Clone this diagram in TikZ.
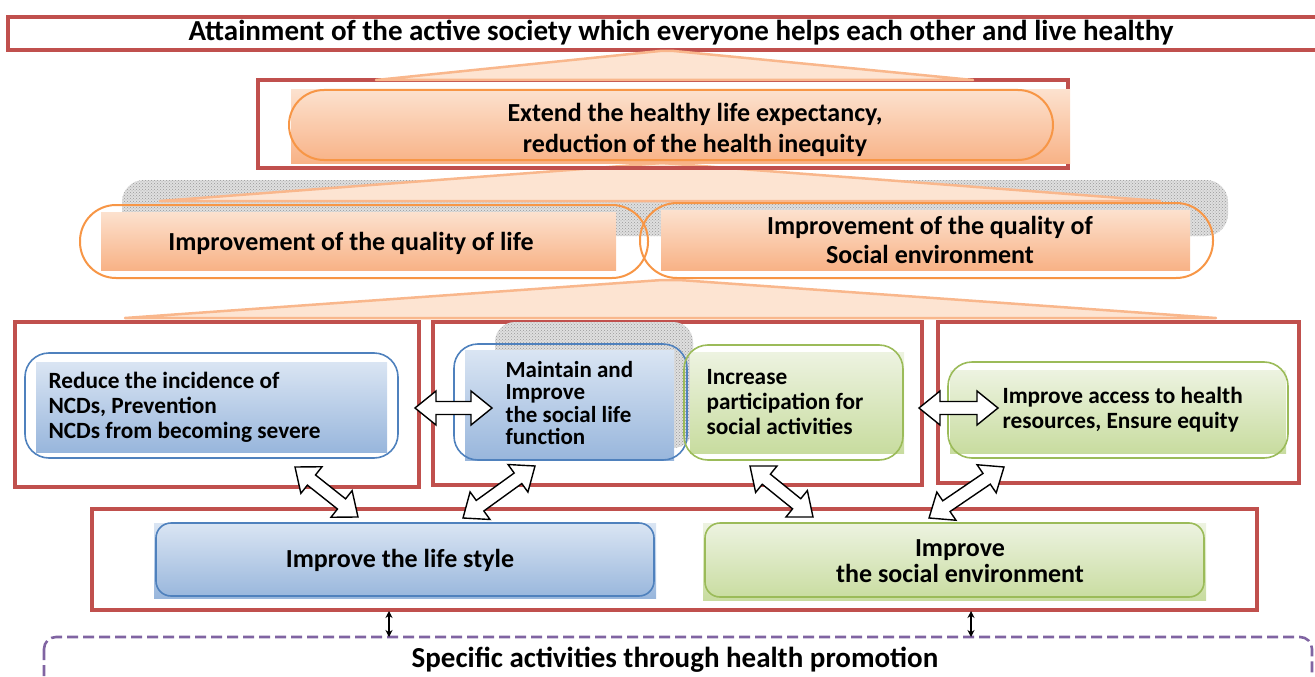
\documentclass[tikz,border=0pt]{standalone}
\usepackage{fontspec}
\setmainfont{Carlito}
\usetikzlibrary{calc,patterns,arrows.meta}

\definecolor{framered}{HTML}{C0504D}
\definecolor{orline}{HTML}{F79646}
\definecolor{ortop}{HTML}{FCE1CE}
\definecolor{orbot}{HTML}{F8B286}
\definecolor{fanfill}{HTML}{FDE4D2}
\definecolor{fanline}{HTML}{F9B78C}
\definecolor{blline}{HTML}{4F81BD}
\definecolor{bltop}{HTML}{DAE5F3}
\definecolor{blbot}{HTML}{98B6DC}
\definecolor{grline}{HTML}{9BBB59}
\definecolor{grtop}{HTML}{EDF3E1}
\definecolor{grbot}{HTML}{C8DC9F}
\definecolor{purp}{HTML}{8064A2}

\tikzset{
  frm/.style={draw=framered, line width=3.2pt},
  fan/.style={fill=fanfill, draw=fanline, line width=2.5pt, line join=round},
  haze/.style={fill=gray!25, postaction={pattern=crosshatch dots, pattern color=gray!80}},
  orfill/.style={shade, top color=ortop, bottom color=orbot},
  orring/.style={draw=orline, line width=2pt},
  blfill/.style={shade, top color=bltop, bottom color=blbot},
  blring/.style={draw=blline, line width=1.6pt},
  grfill/.style={shade, top color=grtop, bottom color=grbot},
  grring/.style={draw=grline, line width=1.6pt},
  fatarrow/.style={draw=black, fill=white, line width=1.4pt, line join=miter},
  thinarrow/.style={{Stealth[length=7pt,width=7pt]}-{Stealth[length=7pt,width=7pt]}, line width=1.1pt},
  big/.style={font=\bfseries\fontsize{29}{34}\selectfont},
  mid/.style={font=\bfseries\fontsize{26}{31}\selectfont, align=center},
  small/.style={font=\bfseries\fontsize{23.3}{25}\selectfont, align=left},
}

% fat double-headed arrow between two named points
\newcommand{\fatdbl}[2]{%
  \path (#1); \pgfgetlastxy{\ax}{\ay}%
  \path (#2); \pgfgetlastxy{\bx}{\by}%
  \pgfmathsetmacro\arrang{atan2((\by)-(\ay),(\bx)-(\ax))}%
  \pgfmathsetmacro\arrlen{veclen((\bx)-(\ax),(\by)-(\ay))/1pt}%
  \begin{scope}[shift={(#1)}, rotate=\arrang]
    \draw[fatarrow] (0,0) -- (21,17) -- (21,6.5) -- (\arrlen-21,6.5) -- (\arrlen-21,17)
      -- (\arrlen,0) -- (\arrlen-21,-17) -- (\arrlen-21,-6.5) -- (21,-6.5) -- (21,-17) -- cycle;
  \end{scope}}

\begin{document}
\begin{tikzpicture}[x=1pt,y=-1pt]
\useasboundingbox (0,0) rectangle (1315,677);
\clip (0,0) rectangle (1315,677);

% ---------- goal ----------
\draw[frm] (8,17) rectangle (1353,50);
\node[big] (goal) at (681,33) {Attainment of the active society which everyone helps each other and live healthy};

% ---------- second level ----------
\path[haze, rounded corners=22] (122,180) rectangle (1228,236);
\draw[fan] (160,201) -- (662,163) -- (1160,201) -- cycle;
\draw[frm] (258,80) rectangle (1068,168);
\path[orfill] (291,90) rectangle (1070,163);
\draw[orring, rounded corners=35] (289,90) rectangle (1053,160);
\node[mid] (lifeexp) at (695,130) {Extend the healthy life expectancy,\\reduction of the health inequity};
\draw[fan] (376,80) -- (660,51) -- (674,51) -- (973,80) -- cycle;

% ---------- quality row ----------
\path[orfill] (101,212) rectangle (616,270);
\draw[orring, rounded corners=36] (80,205) rectangle (648,278);
\node[mid] (qlife) at (351,243) {Improvement of the quality of life};
\path[orfill] (661,210) rectangle (1190,270);
\draw[orring, rounded corners=37] (640,203) rectangle (1213,278);
\node[mid, font=\bfseries\fontsize{26}{29}\selectfont] (qsocial) at (930,240) {Improvement of the quality of\\Social environment};

\draw[fan] (125,318) -- (662,280) -- (679,280) -- (1216,318) -- cycle;

% ---------- goals row ----------
\draw[frm] (15,322) rectangle (419,487);
\draw[frm] (433,322) rectangle (922,485);
\draw[frm] (938,322) rectangle (1299,483);

\path[blfill] (36,362) rectangle (387,452);
\draw[blring, rounded corners=24] (25,353) rectangle (398,458);
\node[small, anchor=west] (ncd) at (45,407) {Reduce the incidence of\\NCDs, Prevention\\NCDs from becoming severe};

\path[haze, rounded corners=20] (495,322) rectangle (693,448);
\path[blfill] (465,350) rectangle (674,460);
\draw[blring, rounded corners=24] (454,344) rectangle (687,460);
\node[small, anchor=west, font=\bfseries\fontsize{23}{22.5}\selectfont] (func) at (502,403) {Maintain and\\Improve\\the social life\\function};

\path[grfill] (690,352) rectangle (904,453);
\draw[grring, rounded corners=24] (684,345) rectangle (903,460);
\node[small, anchor=west] (partic) at (703,402) {Increase\\participation for\\social activities};

\path[grfill] (950,370) rectangle (1286,453);
\draw[grring, rounded corners=24] (948,362) rectangle (1288,458);
\node[small, anchor=west] (access) at (999,410) {Improve access to health\\resources, Ensure equity};

% ---------- lower row ----------
\draw[frm] (92,509) rectangle (1257,610);
\path[blfill] (154,523) rectangle (656,598);
\draw[blring, rounded corners=15] (156,523) rectangle (654,596);
\node[mid] (lifestyle) at (400,560) {Improve the life style};
\path[grfill] (703,523) rectangle (1206,600);
\draw[grring, rounded corners=15] (705,523) rectangle (1204,597);
\node[mid, font=\bfseries\fontsize{26}{26}\selectfont] (socenv) at (960,561) {Improve\\the social environment};

% ---------- activities ----------
\draw[purp, line width=2.6pt, dash pattern=on 11pt off 5pt, rounded corners=12] (44,637) rectangle (1312,720);
\node[big] (activities) at (675,660) {Specific activities through health promotion};

% ---------- connectors ----------
\coordinate (h1a) at (415,408); \coordinate (h1b) at (492,408);
\coordinate (h2a) at (919,408); \coordinate (h2b) at (998,408);
\coordinate (d1a) at (295,467); \coordinate (d1b) at (358,517);
\coordinate (d2a) at (535,466); \coordinate (d2b) at (463,518);
\coordinate (d3a) at (750,466); \coordinate (d3b) at (813,517);
\coordinate (d4a) at (1004,467); \coordinate (d4b) at (929,518);
\fatdbl{h1a}{h1b}
\fatdbl{h2a}{h2b}
\fatdbl{d1a}{d1b}
\fatdbl{d2a}{d2b}
\fatdbl{d3a}{d3b}
\fatdbl{d4a}{d4b}

\coordinate (v1) at (389,0); \coordinate (v2) at (971,0);
\coordinate (lowedge) at (0,611); \coordinate (actedge) at (0,637);
\draw[thinarrow] (v1 |- lowedge) -- (v1 |- actedge);
\draw[thinarrow] (v2 |- lowedge) -- (v2 |- actedge);
\end{tikzpicture}
\end{document}
